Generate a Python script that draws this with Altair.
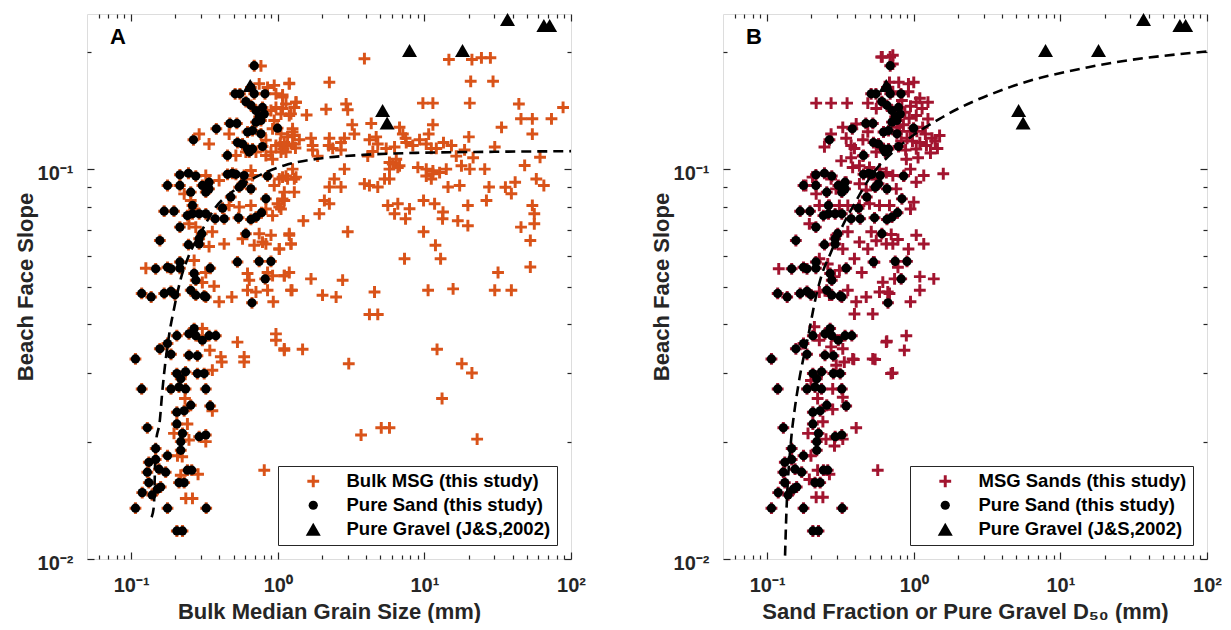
import altair as alt
import pandas as pd

ORANGE = "#D95319"
CRIMSON = "#A2142F"
INK = "#262626"
FONT = "Liberation Sans"

# ---- Pure sand samples (shared by both panels) : (median grain size mm, beach face slope)
sand_pts = [
    (0.107, 0.0135), (0.177, 0.0135), (0.325, 0.0135), (0.205, 0.0118), (0.224, 0.0118),
    (0.129, 0.0217), (0.118, 0.0273), (0.205, 0.0222), (0.132, 0.0177), (0.147, 0.0180),
    (0.151, 0.0151), (0.132, 0.0157), (0.119, 0.0148), (0.139, 0.0146), (0.172, 0.0167),
    (0.177, 0.0184), (0.147, 0.0192), (0.155, 0.0170), (0.129, 0.0167), (0.159, 0.0153),
    (0.212, 0.0157), (0.230, 0.0157), (0.242, 0.0169), (0.259, 0.0169), (0.218, 0.0190),
    (0.218, 0.0200), (0.224, 0.0210), (0.291, 0.0206), (0.323, 0.0208), (0.205, 0.0238),
    (0.230, 0.0240), (0.255, 0.0248), (0.346, 0.0247), (0.187, 0.0273), (0.212, 0.0276),
    (0.235, 0.0273), (0.323, 0.0273), (0.205, 0.0299), (0.235, 0.0302), (0.283, 0.0299),
    (0.315, 0.0299), (0.218, 0.0290),
    (0.107, 0.0326), (0.157, 0.0346), (0.187, 0.0335), (0.177, 0.0357), (0.205, 0.0374),
    (0.248, 0.0378), (0.269, 0.0390), (0.276, 0.0374), (0.306, 0.0364), (0.340, 0.0374),
    (0.378, 0.0374), (0.248, 0.0333), (0.283, 0.0332), (0.118, 0.0480), (0.137, 0.0470),
    (0.168, 0.0480), (0.187, 0.0486), (0.199, 0.0476), (0.255, 0.0489), (0.276, 0.0475),
    (0.315, 0.0473), (0.323, 0.0470), (0.269, 0.0540), (0.276, 0.0519), (0.147, 0.0555),
    (0.177, 0.0560), (0.187, 0.0555), (0.215, 0.0557), (0.215, 0.0578), (0.346, 0.0557),
    (0.667, 0.0454), (0.821, 0.0523), (0.531, 0.0578), (0.747, 0.0580), (0.899, 0.0580),
    (0.157, 0.0656), (0.246, 0.0640), (0.215, 0.0710), (0.291, 0.0663), (0.291, 0.0643),
    (0.303, 0.0683), (0.606, 0.0683), (0.168, 0.0780), (0.196, 0.0780), (0.242, 0.0760),
    (0.262, 0.0768), (0.291, 0.0768), (0.323, 0.0768), (0.374, 0.0746), (0.431, 0.0746),
    (0.540, 0.0750), (0.656, 0.0743), (0.710, 0.0753), (0.775, 0.0773), (0.420, 0.0794),
    (0.262, 0.0807),
    (0.177, 0.0908), (0.215, 0.0967), (0.246, 0.0976), (0.276, 0.0960), (0.215, 0.0908),
    (0.255, 0.0873), (0.306, 0.0908), (0.340, 0.0890), (0.323, 0.0873), (0.340, 0.0926),
    (0.454, 0.0970), (0.491, 0.0976), (0.518, 0.0970), (0.590, 0.0963), (0.852, 0.0960),
    (0.546, 0.0899), (0.575, 0.0917), (0.656, 0.0890), (0.478, 0.0848), (0.830, 0.0839),
    (0.266, 0.1189), (0.381, 0.1269), (0.454, 0.1084), (0.471, 0.1310), (0.526, 0.1310),
    (0.531, 0.1170), (0.575, 0.1160), (0.622, 0.1127), (0.673, 0.1127), (0.787, 0.1143),
    (0.622, 0.1245), (0.673, 0.1256), (0.768, 0.1232), (0.710, 0.1320), (0.768, 0.1333),
    (0.997, 0.1274), (0.639, 0.1106), (0.512, 0.1560), (0.552, 0.1560), (0.606, 0.1490),
    (0.656, 0.1620), (0.691, 0.1560), (0.656, 0.1458), (0.710, 0.1414), (0.787, 0.1440),
    (0.809, 0.1385), (0.747, 0.1360), (0.818, 0.1560), (0.691, 0.1842),
]

# ---- Pure gravel (J&S, 2002)
gravel_pts = [
    (0.649, 0.164), (5.19, 0.1414), (5.57, 0.1314), (7.92, 0.2016), (18.2, 0.2016),
    (36.9, 0.242), (65.3, 0.2336), (71.5, 0.2336),
]

# ---- Bulk MSG (panel A), beyond the pure-sand positions
msg_pts = [
    (3.90, 0.192), (14.7, 0.191), (21.1, 0.191), (24.5, 0.193), (28.2, 0.193),
    (1.198, 0.166), (2.249, 0.167), (20.7, 0.168), (29.4, 0.168),
    (1.079, 0.155), (1.138, 0.147), (1.332, 0.1485), (1.079, 0.143), (1.231, 0.1386), (1.573, 0.1377),
    (2.135, 0.1424), (2.926, 0.147), (3.0, 0.142), (9.77, 0.1477), (11.43, 0.1477), (20.4, 0.1477),
    (3.22, 0.130), (4.34, 0.131), (11.43, 0.130), (6.77, 0.128), (7.13, 0.123), (7.44, 0.120),
    (3.33, 0.123), (2.85, 0.120), (2.70, 0.117), (4.69, 0.121), (4.81, 0.116), (4.22, 0.119),
    (10.7, 0.123), (20.1, 0.121), (30.2, 0.114), (9.27, 0.119), (10.3, 0.116), (13.5, 0.117), (15.3, 0.115),
    (1.262, 0.127), (1.297, 0.122), (1.403, 0.119), (1.686, 0.120), (2.249, 0.120), (2.225, 0.115),
    (1.04, 0.1165), (1.16, 0.1148), (1.32, 0.1133), (1.09, 0.1127),
    (1.729, 0.115), (1.729, 0.112), (1.871, 0.108), (2.37, 0.113), (2.70, 0.112),
    (4.11, 0.108), (4.45, 0.111), (5.49, 0.113), (6.26, 0.114), (6.43, 0.106), (5.78, 0.104),
    (5.78, 0.100), (6.77, 0.102),
    (7.52, 0.117), (8.34, 0.115), (11.15, 0.113), (12.06, 0.113), (16.5, 0.108), (18.8, 0.112), (21.5, 0.107),
    (9.03, 0.101), (10.3, 0.100), (11.43, 0.099), (12.7, 0.098), (14.1, 0.100), (10.3, 0.096),
    (11.15, 0.0944), (11.43, 0.0973),
    (17.9, 0.102), (20.4, 0.100), (25.8, 0.100), (14.5, 0.090), (17.4, 0.0908), (27.6, 0.090), (26.5, 0.0831),
    (1.024, 0.0944), (1.138, 0.096), (1.297, 0.0944), (2.43, 0.0944), (2.249, 0.090), (2.70, 0.090), (2.85, 0.100),
    (3.90, 0.0917), (4.22, 0.0908), (4.81, 0.090), (5.35, 0.0944), (5.78, 0.0944), (6.09, 0.103), (6.59, 0.101),
    (1.108, 0.0831), (1.024, 0.080), (2.08, 0.0831), (2.249, 0.0815), (1.921, 0.0768),
    (5.63, 0.0807), (6.59, 0.0815), (6.26, 0.0768), (7.92, 0.0791), (7.44, 0.0746),
    (9.87, 0.0831), (11.74, 0.0815), (13.4, 0.0776), (19.8, 0.0807), (16.9, 0.0737), (19.8, 0.0716), (13.3, 0.0746),
    (1.494, 0.0737), (3.0, 0.0691), (9.87, 0.0691), (11.9, 0.0638), (1.198, 0.0683), (1.231, 0.0643), (1.024, 0.0624),
    (7.32, 0.0589), (12.9, 0.0589), (31.8, 0.0543), (1.108, 0.0533), (1.686, 0.0523), (2.77, 0.0519),
    (1.231, 0.0489), (2.02, 0.0475), (2.50, 0.0470), (4.57, 0.0484), (10.6, 0.0489), (15.7, 0.0493), (30.2, 0.0489),
    (4.22, 0.0424), (4.81, 0.0424), (1.108, 0.0343), (1.477, 0.0345), (3.05, 0.0317), (12.2, 0.0345),
    (18.0, 0.0317), (21.1, 0.0300), (13.2, 0.0258), (5.08, 0.0217), (5.78, 0.0217), (3.70, 0.0208), (22.9, 0.0203),
    (88.3, 0.144), (73.6, 0.1346), (54.5, 0.1346), (45.6, 0.1346), (44.1, 0.147), (33.6, 0.128), (54.5, 0.123),
    (61.5, 0.1073), (48.3, 0.1022), (58.0, 0.0944), (65.3, 0.0908), (35.7, 0.0899), (39.2, 0.0865), (41.6, 0.0926),
    (54.5, 0.0807), (56.2, 0.0768), (52.8, 0.0656), (45.6, 0.0710), (56.2, 0.0724), (52.8, 0.0561), (39.2, 0.0489),
    (0.809, 0.0169), (0.358, 0.0305), (0.233, 0.0258), (0.242, 0.0222), (0.196, 0.0210), (0.248, 0.0202),
    (0.207, 0.0184), (0.223, 0.0183), (0.286, 0.0165), (0.218, 0.0164), (0.236, 0.0143), (0.262, 0.0143),
    (0.323, 0.0200), (0.358, 0.0240), (0.415, 0.0320), (0.590, 0.0320),
    (0.126, 0.0557), (0.368, 0.0501), (0.398, 0.0457), (0.486, 0.0470), (0.622, 0.0489), (0.710, 0.0484),
    (0.852, 0.0489), (0.932, 0.0457), (1.251, 0.0489), (0.622, 0.0540), (0.639, 0.0519), (0.852, 0.0543),
    (0.922, 0.0533), (1.108, 0.0533), (1.198, 0.0543), (0.323, 0.0543), (0.306, 0.0512), (0.269, 0.0583),
    (0.431, 0.0643), (0.575, 0.0663), (0.691, 0.0638), (0.787, 0.0650), (0.899, 0.0677), (1.024, 0.0624),
    (1.198, 0.0677), (1.231, 0.0643), (0.747, 0.0683), (0.830, 0.0643), (0.358, 0.0691), (0.340, 0.0633),
    (0.531, 0.0360), (0.590, 0.0330), (0.409, 0.0330), (0.972, 0.0378), (0.972, 0.0364), (1.108, 0.0346),
    (0.306, 0.0390), (0.344, 0.0343), (0.269, 0.0790), (0.466, 0.0807), (0.546, 0.0800), (0.656, 0.0807),
    (0.830, 0.0790), (0.922, 0.0760), (1.052, 0.0790), (0.248, 0.0724), (0.276, 0.0710),
    (0.291, 0.123), (0.340, 0.116), (0.466, 0.123), (0.768, 0.184), (0.747, 0.1655), (0.852, 0.162),
    (0.946, 0.164), (1.198, 0.1655), (0.972, 0.156), (1.078, 0.153), (1.332, 0.1485), (0.899, 0.1414),
    (0.972, 0.144), (1.052, 0.1385), (1.198, 0.1373), (1.297, 0.144), (0.946, 0.1333), (0.922, 0.1269),
    (1.052, 0.1232), (1.167, 0.121), (1.262, 0.1245), (1.108, 0.117), (1.262, 0.116), (0.972, 0.115),
    (0.830, 0.1187), (0.899, 0.1106), (1.052, 0.1106), (0.922, 0.106), (1.138, 0.1106), (0.518, 0.1084),
    (0.606, 0.1106), (0.710, 0.1106), (0.830, 0.1084), (1.332, 0.0954), (1.078, 0.0954), (1.167, 0.0944),
    (0.946, 0.0908), (1.108, 0.0873), (0.606, 0.0944), (0.656, 0.0992), (0.673, 0.0963), (1.078, 0.0839),
    (0.997, 0.0815), (0.323, 0.0963), (0.398, 0.0935), (0.230, 0.0864), (0.255, 0.0831), (1.262, 0.100),
    (1.297, 0.0873),
]

# ---- MSG sand fractions (panel B), beyond the pure-sand positions
msgsand_pts = [
    (0.61, 0.194), (0.69, 0.194), (0.216, 0.1477), (0.273, 0.1477), (0.351, 0.1477), (0.486, 0.1477),
    (0.555, 0.143), (0.683, 0.167), (0.72, 0.158), (0.78, 0.143), (0.76, 0.135),
    (0.405, 0.1306), (0.328, 0.128), (0.273, 0.123), (0.246, 0.114), (0.346, 0.12), (0.374, 0.115),
    (0.45, 0.119), (0.486, 0.1247), (0.394, 0.113), (0.449, 0.108), (0.555, 0.1106),
    (0.32, 0.105), (0.374, 0.107), (0.383, 0.101), (0.426, 0.102), (0.499, 0.101), (0.584, 0.10), (0.65, 0.098),
    (0.204, 0.0954), (0.184, 0.0908), (0.216, 0.0864), (0.273, 0.0944), (0.295, 0.089), (0.346, 0.0926),
    (0.426, 0.0917), (0.474, 0.0884), (0.555, 0.0944), (0.72, 0.0963), (0.76, 0.089),
    (0.12, 0.0555), (0.194, 0.0724),
    (0.227, 0.0807), (0.266, 0.0807), (0.311, 0.0807), (0.355, 0.0807), (0.426, 0.0807), (0.499, 0.0815),
    (0.584, 0.0807), (0.683, 0.0807),
    (0.355, 0.0691), (0.296, 0.0677), (0.328, 0.0624), (0.426, 0.065), (0.486, 0.0624), (0.513, 0.0691),
    (0.555, 0.0655), (0.65, 0.0643), (0.702, 0.068), (0.72, 0.0643), (0.78, 0.066),
    (0.227, 0.0589), (0.259, 0.0571), (0.311, 0.055), (0.288, 0.053), (0.394, 0.0589), (0.442, 0.0543),
    (0.539, 0.0577), (0.615, 0.0513), (0.74, 0.0523), (0.78, 0.056),
    (0.227, 0.0484), (0.266, 0.0475), (0.355, 0.0489), (0.405, 0.0457), (0.474, 0.047), (0.584, 0.0484),
    (0.665, 0.0484), (0.683, 0.048),
    (0.394, 0.0425), (0.525, 0.0425),
    (0.21, 0.0394), (0.227, 0.0364), (0.273, 0.035), (0.328, 0.0346), (0.383, 0.0326), (0.525, 0.0326), (0.65, 0.036),
    (0.70, 0.0299), (0.19, 0.021), (0.252, 0.0203), (0.288, 0.0195), (0.328, 0.0203), (0.405, 0.0217),
    (0.568, 0.0169), (0.216, 0.0144), (0.24, 0.0144),
    (0.199, 0.0287), (0.28, 0.0273), (0.328, 0.026), (0.221, 0.0258), (0.28, 0.0242), (0.24, 0.0225),
    (0.199, 0.0184), (0.221, 0.0169), (0.266, 0.0165), (0.194, 0.016), (0.296, 0.0314), (0.336, 0.032),
    (0.655, 0.0362), (0.89, 0.0374), (0.863, 0.0343), (0.545, 0.0325), (0.717, 0.030), (0.39, 0.0325),
    (1.59, 0.0973), (1.17, 0.0963), (1.04, 0.0926), (1.0, 0.0823), (0.95, 0.079), (1.04, 0.0677),
    (1.17, 0.0643), (0.92, 0.0624), (1.1, 0.053), (1.37, 0.0523), (1.1, 0.0489), (0.95, 0.0457),
    (1.33, 0.12), (1.45, 0.113), (1.5, 0.122), (1.2, 0.123), (1.1, 0.117), (1.25, 0.1485), (1.14, 0.143),
    (1.04, 0.1373), (1.25, 0.1345), (1.1, 0.152), (0.92, 0.158), (1.0, 0.167), (1.04, 0.1485),
    (0.89, 0.106), (1.07, 0.107), (0.95, 0.10), (0.86, 0.0963), (1.04, 0.1127), (0.72, 0.196), (0.6, 0.194),
    (0.72, 0.186), (0.92, 0.1655), (0.79, 0.167),
    (0.8, 0.125), (0.85, 0.13), (0.9, 0.12), (0.95, 0.125), (0.82, 0.118), (0.88, 0.112), (0.93, 0.135),
    (0.98, 0.118), (1.05, 0.125), (0.87, 0.14), (0.95, 0.145), (0.83, 0.15), (0.78, 0.128), (1.15, 0.128),
    (1.22, 0.115), (1.3, 0.11), (1.4, 0.118),
]

# ---- dashed fits
fitA_x = [0.138, 0.143, 0.147, 0.157, 0.163, 0.182, 0.196, 0.218, 0.248, 0.30, 0.378, 0.5,
          0.747, 1.108, 1.86, 3.84, 10, 30, 100]
fitA_y = [0.0128, 0.0137, 0.0196, 0.0227, 0.0268, 0.0378, 0.0438, 0.0523, 0.0601, 0.069, 0.0799,
          0.088, 0.0964, 0.1022, 0.1063, 0.1088, 0.1102, 0.1108, 0.1112]
fitB_x = [0.1325, 0.1344, 0.1455, 0.1532, 0.1632, 0.194, 0.21, 0.233, 0.273, 0.328, 0.394, 0.496,
          0.811, 1.5, 4.53, 15.5, 100]
fitB_y = [0.0102, 0.0122, 0.0201, 0.0238, 0.0279, 0.0386, 0.0451, 0.0528, 0.0613, 0.0717, 0.0815,
          0.0944, 0.115, 0.1346, 0.1623, 0.1826, 0.2004]

# ---- axis ticks
x_major = [0.1, 1, 10, 100]
x_minor = [0.06, 0.07, 0.08, 0.09, 0.2, 0.3, 0.4, 0.5, 0.6, 0.7, 0.8, 0.9,
           2, 3, 4, 5, 6, 7, 8, 9, 20, 30, 40, 50, 60, 70, 80, 90]
y_major = [0.01, 0.1]
y_minor = [0.02, 0.03, 0.04, 0.05, 0.06, 0.07, 0.08, 0.09, 0.2]
label_values = [0.01, 0.1, 1, 10, 100]
label_texts = ["10⁻²", "10⁻¹", "10⁰", "10¹", "10²"]

X_DOMAIN = [0.05, 100]
Y_DOMAIN = [0.01, 0.25]

label_expr = ""
for v, t in zip(label_values, label_texts):
    label_expr += f"abs(datum.value - {v}) < {v * 0.01} ? '{t}' : "
label_expr += "''"

PLUS = "M-0.25,-1H0.25V-0.25H1V0.25H0.25V1H-0.25V0.25H-1V-0.25H-0.25Z"

W, H = 484, 545


def axis(orient, values, major, title=None):
    kw = dict(
        orient=orient, values=values, grid=False, domain=False,
        tickSize=alt.ExprRef("-7" if major else "-4"),
        tickColor=INK, tickWidth=1.2, minExtent=0,
    )
    if major and orient in ("bottom", "left"):
        kw.update(
            labels=True, labelExpr=label_expr, labelFont=FONT, labelFontSize=20,
            labelFontWeight="bold", labelColor=INK, labelFlush=False, labelOverlap=False,
            labelPadding=23 if orient == "bottom" else 21,
            title=title, titleFont=FONT, titleFontSize=22, titleFontWeight="bold",
            titleColor=INK,
        )
        if orient == "left":
            kw.update(labelOffset=4, titleX=-62, titleBaseline="middle", titleAngle=270)
        else:
            kw.update(titleY=59, titleBaseline="alphabetic")
    else:
        kw.update(labels=False, title=None, maxExtent=0)
    return alt.Axis(**kw)


def panel(letter, extra_pts, plus_name, plus_color, fit_x, fit_y, xtitle):
    names = [plus_name, "Pure Sand (this study)", "Pure Gravel (J&S,2002)"]
    plus_all = list(extra_pts) + list(sand_pts)
    rows = ([(x, y, names[0]) for x, y in plus_all]
            + [(x, y, names[1]) for x, y in sand_pts]
            + [(x, y, names[2]) for x, y in gravel_pts])
    pts = pd.DataFrame(rows, columns=["x", "y", "series"])
    fit = pd.DataFrame({"x": fit_x, "y": fit_y})

    xs = alt.Scale(type="log", domain=X_DOMAIN, nice=False)
    ys = alt.Scale(type="log", domain=Y_DOMAIN, nice=False)

    leg = alt.Legend(
        title=None, orient="bottom-right", offset=14, fillColor="white",
        strokeColor=INK, padding=6, rowPadding=5, symbolOffset=20, labelOffset=24,
        labelFont=FONT, labelFontSize=18.5, labelFontWeight="bold", labelColor="black",
        labelLimit=400, symbolStrokeWidth=0,
    )
    points = alt.Chart(pts).mark_point(filled=True, opacity=1, strokeWidth=0).encode(
        x=alt.X("x:Q", scale=xs, axis=axis("bottom", x_major, True, xtitle)),
        y=alt.Y("y:Q", scale=ys, axis=axis("left", y_major, True, "Beach Face Slope")),
        color=alt.Color("series:N", scale=alt.Scale(type="ordinal", domain=names,
                                                    range=[plus_color, "black", "black"]), legend=leg),
        shape=alt.Shape("series:N", scale=alt.Scale(type="ordinal", domain=names,
                                                    range=[PLUS, "circle", "triangle-up"]), legend=leg),
        size=alt.Size("series:N", scale=alt.Scale(type="ordinal", domain=names,
                                                  range=[140, 85, 225]), legend=leg),
    )
    line = alt.Chart(fit).mark_line(
        color="black", strokeDash=[10, 6], strokeWidth=2.6, interpolate="monotone", clip=True
    ).encode(
        x=alt.X("x:Q", scale=xs, axis=axis("bottom", x_minor, False)),
        y=alt.Y("y:Q", scale=ys, axis=axis("left", y_minor, False)),
    )
    top_major = alt.Chart(fit).mark_point(opacity=0).encode(
        x=alt.X("x:Q", scale=xs, axis=axis("top", x_major, True)),
        y=alt.Y("y:Q", scale=ys, axis=axis("right", y_major, True)),
    )
    top_minor = alt.Chart(fit).mark_point(opacity=0).encode(
        x=alt.X("x:Q", scale=xs, axis=axis("top", x_minor, False)),
        y=alt.Y("y:Q", scale=ys, axis=axis("right", y_minor, False)),
    )
    tag = alt.Chart(pd.DataFrame({"t": [letter]})).mark_text(
        font=FONT, fontSize=22, fontWeight="bold", color="black", align="center", baseline="middle"
    ).encode(text="t:N", x=alt.value(31), y=alt.value(23))

    return alt.layer(points, line, top_major, top_minor, tag).resolve_scale(
        x="shared", y="shared"
    ).resolve_axis(x="independent", y="independent").properties(width=W, height=H)


pA = panel("A", msg_pts, "Bulk MSG (this study)", ORANGE, fitA_x, fitA_y,
           "Bulk Median Grain Size (mm)")
pB = panel("B", msgsand_pts, "MSG Sands (this study)", CRIMSON, fitB_x, fitB_y,
           "Sand Fraction or Pure Gravel D₅₀ (mm)")

chart = alt.hconcat(pA, pB, spacing=152, bounds="flush").resolve_scale(
    color="independent", shape="independent", size="independent", x="independent", y="independent"
).properties(
    padding={"left": 5, "top": 4, "right": 0, "bottom": 0}, background="white"
).configure_view(stroke=INK, strokeWidth=1.5).configure(font=FONT)

chart.save("out.html", embed_options={"renderer": "svg", "actions": False})
